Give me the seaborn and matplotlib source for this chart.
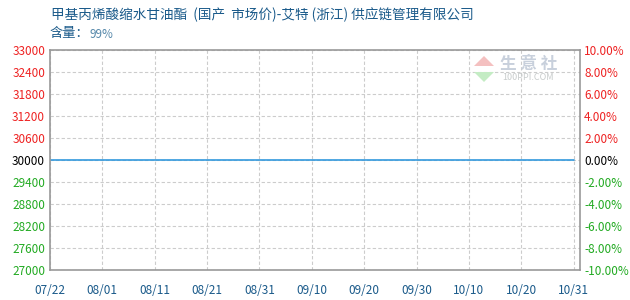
import matplotlib
matplotlib.use("Agg")
import matplotlib.pyplot as plt
from matplotlib.patches import Polygon
import seaborn as sns
import pandas as pd

sns.set_theme(style="white")
plt.rcParams['font.family'] = ['Noto Sans CJK SC', 'DejaVu Sans']

# Daily market price, 07/22 to 10/31 (flat at 30000)
day_index = list(range(0, 101))
price = [30000] * len(day_index)

tick_pos = [0, 10, 20, 30, 40, 50, 60, 70, 80, 90, 100]
tick_labels = ["07/22", "08/01", "08/11", "08/21", "08/31", "09/10",
               "09/20", "09/30", "10/10", "10/20", "10/31"]
y_ticks = [27000, 27600, 28200, 28800, 29400, 30000,
           30600, 31200, 31800, 32400, 33000]
pct_ticks = [-10, -8, -6, -4, -2, 0, 2, 4, 6, 8, 10]

base = 30000
title = "甲基丙烯酸缩水甘油酯  (国产  市场价)-艾特 (浙江) 供应链管理有限公司"

df = pd.DataFrame({"day": day_index, "price": price})

fig = plt.figure(figsize=(6.3, 3.0), dpi=100)
ax = fig.add_axes([50 / 630, 1 - 270 / 300, 530 / 630, 220 / 300])

sns.lineplot(data=df, x="day", y="price", ax=ax, color="#3399dd", linewidth=1.2)

ax.set_xlim(0, 101.2)
ax.set_ylim(y_ticks[0], y_ticks[-1])
ax.set_xticks(tick_pos)
ax.set_xticklabels(tick_labels)
ax.set_yticks(y_ticks)
ax.set_yticklabels([str(v) for v in y_ticks])
ax.set_xlabel("")
ax.set_ylabel("")

ax.grid(True, color="#cccccc", linestyle=(0, (3, 2)), linewidth=0.8)
for s in ax.spines.values():
    s.set_color("#999999")
    s.set_linewidth(1.2)

red, green, black = "#ee2222", "#22aa22", "#000000"


def col(v, ref):
    return red if v > ref else (green if v < ref else black)


ax.tick_params(axis="both", length=0, labelsize=8.5)
ax.tick_params(axis="x", pad=10, colors="#1a5a8a")
for lbl, v in zip(ax.get_yticklabels(), y_ticks):
    lbl.set_color(col(v, base))

ax2 = ax.twinx()
ax2.set_ylim(pct_ticks[0], pct_ticks[-1])
ax2.set_yticks(pct_ticks)
ax2.set_yticklabels([f"{v:.2f}%" for v in pct_ticks])
ax2.tick_params(axis="y", length=0, labelsize=8.5, pad=3)
for lbl, v in zip(ax2.get_yticklabels(), pct_ticks):
    lbl.set_color(col(v, 0))
for s in ax2.spines.values():
    s.set_visible(False)

fig.text(51 / 630, 1 - 15 / 300, title, fontsize=9.8, color="#1a5a8a", va="center")
fig.text(50 / 630, 1 - 34 / 300, "含量：", fontsize=9.5, color="#1a5a8a", va="center")
fig.text(89 / 630, 1 - 34 / 300, "99%", fontsize=8.5, color="#5588aa", va="center")

# faint site mark: logo triangles plus name
fig.patches.append(Polygon([(474 / 630, 1 - 66 / 300), (494 / 630, 1 - 66 / 300),
                            (484 / 630, 1 - 56 / 300)], closed=True,
                           transform=fig.transFigure, facecolor="#f4c0c0",
                           edgecolor="none"))
fig.patches.append(Polygon([(474 / 630, 1 - 72 / 300), (494 / 630, 1 - 72 / 300),
                            (484 / 630, 1 - 82 / 300)], closed=True,
                           transform=fig.transFigure, facecolor="#c4ecc4",
                           edgecolor="none"))
fig.text(500 / 630, 1 - 64 / 300, "生 意 社", fontsize=12, color="#c8d0dc",
         va="center", ha="left", fontweight="bold")
fig.text(502 / 630, 1 - 78 / 300, "100PPI.COM", fontsize=6.5, color="#c8cccc",
         va="center", ha="left")

fig.savefig("out.png", dpi=100)
